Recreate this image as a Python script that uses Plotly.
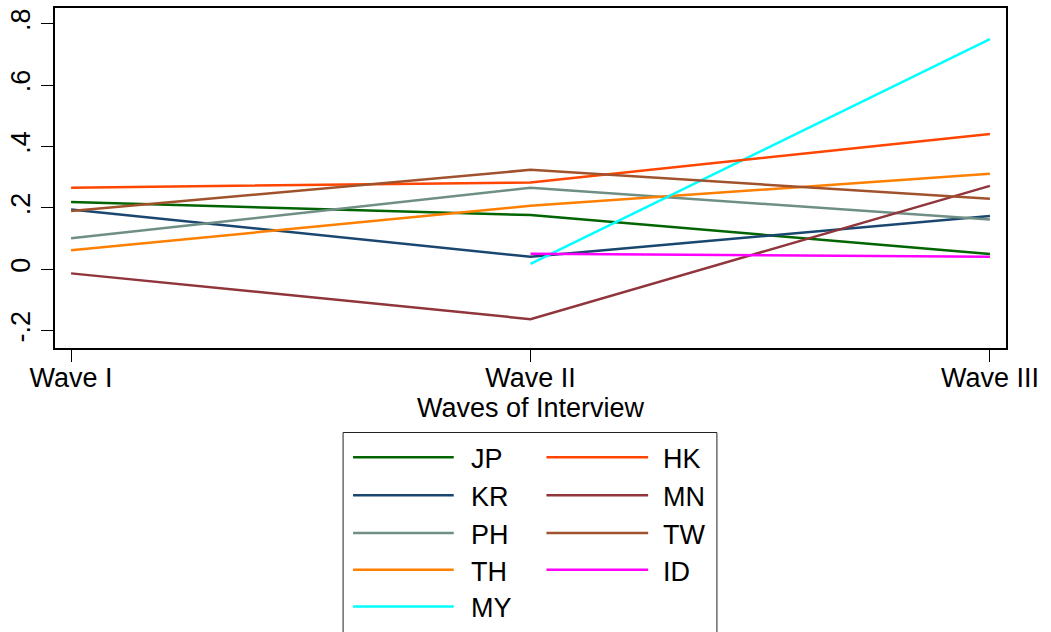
import plotly.graph_objects as go

waves = ["Wave I", "Wave II", "Wave III"]
countries = ["JP", "KR", "PH", "TH", "MY", "HK", "MN", "TW", "ID"]
values = {
    "JP": [0.219, 0.177, 0.050],
    "KR": [0.195, 0.041, 0.174],
    "PH": [0.101, 0.266, 0.162],
    "TH": [0.062, 0.207, 0.311],
    "MY": [None, 0.018, 0.750],
    "HK": [0.266, 0.283, 0.441],
    "MN": [-0.013, -0.162, 0.272],
    "TW": [0.190, 0.324, 0.230],
    "ID": [None, 0.051, 0.041],
}
colors = {
    "JP": "#006400", "KR": "#1a476f", "PH": "#6f8f85", "TH": "#ff7f00",
    "MY": "#00ffff", "HK": "#ff4500", "MN": "#90353b", "TW": "#a0522d",
    "ID": "#ff00ff",
}
ytick_vals = [-0.2, 0, 0.2, 0.4, 0.6, 0.8]
ytick_text = ["-.2", "0", ".2", ".4", ".6", ".8"]
x_title = "Waves of Interview"

W, H = 1051, 632
L, R, T, B = 52, 1006, 6, 348
FONT = "Liberation Sans, Arial, sans-serif"
FS = 27

fig = go.Figure()
for c in countries:
    fig.add_trace(go.Scatter(
        x=waves, y=values[c], mode="lines", name=c,
        line=dict(color=colors[c], width=2.5),
        connectgaps=False, showlegend=False, hoverinfo="skip",
    ))

def px(x):
    return (x - L) / (R - L)

def py(y):
    return (B - y) / (B - T)

shapes = []
annotations = []
# x-axis title
annotations.append(dict(xref="paper", yref="paper", x=px(529), y=py(408),
                        text=x_title, showarrow=False, xanchor="center", yanchor="middle",
                        font=dict(family=FONT, size=FS, color="black")))
# legend box
shapes.append(dict(type="rect", xref="paper", yref="paper",
                   x0=px(341), x1=px(716), y0=py(645), y1=py(433),
                   line=dict(color="#222", width=1), fillcolor="white", layer="above"))
col1 = ["JP", "KR", "PH", "TH", "MY"]
col2 = ["HK", "MN", "TW", "ID"]
rows = [458, 496, 534, 571, 608]
for col, (lx0, lx1, tx) in [(col1, (351, 452, 467)), (col2, (545, 647, 660))]:
    for i, c in enumerate(col):
        yy = rows[i]
        shapes.append(dict(type="line", xref="paper", yref="paper",
                           x0=px(lx0), x1=px(lx1), y0=py(yy), y1=py(yy),
                           line=dict(color=colors[c], width=2.5), layer="above"))
        annotations.append(dict(xref="paper", yref="paper", x=px(tx), y=py(yy + 2),
                                text=c, showarrow=False, xanchor="left", yanchor="middle",
                                font=dict(family=FONT, size=FS, color="black")))

fig.update_layout(
    width=W, height=H,
    margin=dict(l=L, r=W - R, t=T, b=H - B),
    paper_bgcolor="white", plot_bgcolor="white",
    font=dict(family=FONT, size=FS, color="black"),
    xaxis=dict(
        type="category", range=[-0.035, 2.035],
        showgrid=False, zeroline=False,
        showline=True, linecolor="black", linewidth=1.5, mirror=True,
        ticks="outside", ticklen=12, tickcolor="black", tickwidth=1,
        tickfont=dict(family=FONT, size=FS),
        ticklabelstandoff=-7,
    ),
    yaxis=dict(
        range=[-0.256, 0.851],
        tickvals=ytick_vals, ticktext=ytick_text, tickangle=-90,
        showgrid=False, zeroline=False,
        showline=True, linecolor="black", linewidth=1.5, mirror=True,
        ticks="outside", ticklen=12, tickcolor="black", tickwidth=1,
        tickfont=dict(family=FONT, size=FS),
    ),
    shapes=shapes, annotations=annotations,
    showlegend=False,
)
fig.write_html("out.html", config={"displayModeBar": False},
               post_script="document.body.style.margin='0px';")
